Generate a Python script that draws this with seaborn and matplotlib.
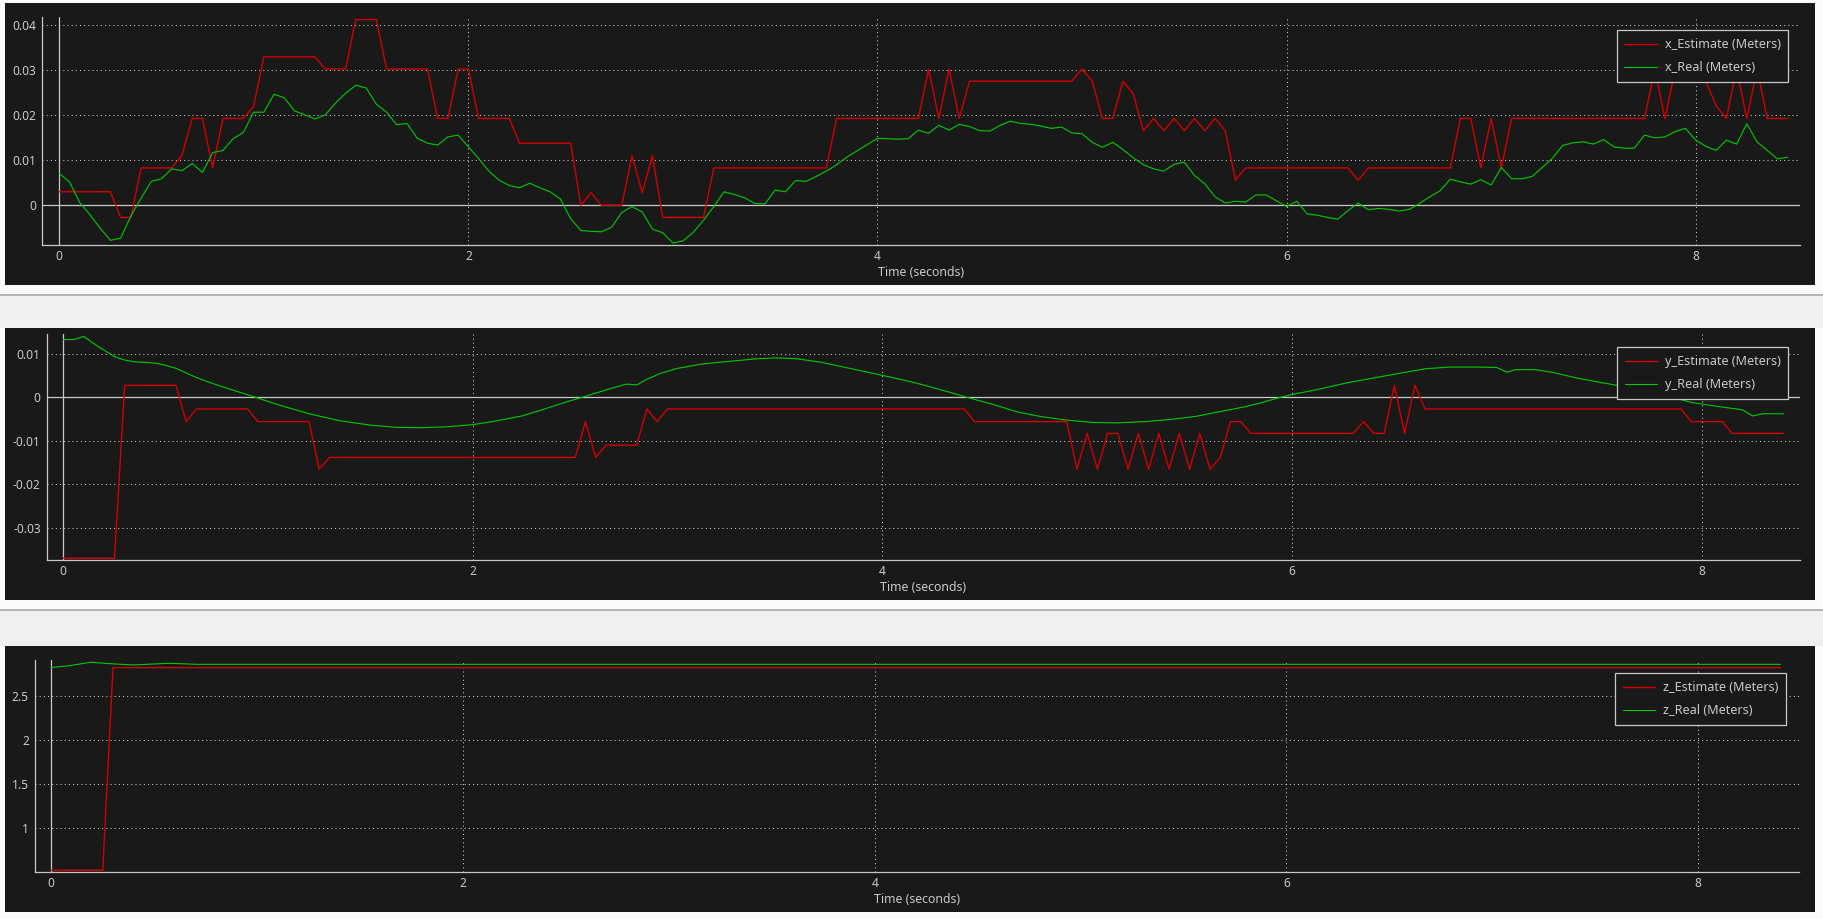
import numpy as np
import matplotlib
matplotlib.use("Agg")
import matplotlib.pyplot as plt
from matplotlib.patches import Rectangle
from matplotlib.ticker import MultipleLocator, FuncFormatter
import seaborn as sns

# ---- data (time in seconds, values in meters) ----
sample_period = 0.05  # real pose published at 20 Hz

x_est_t = [0.00, 0.25, 0.30, 0.35, 0.40, 0.55, 0.60, 0.65, 0.70, 0.75,
           0.80, 0.90, 0.95, 1.00, 1.25, 1.30, 1.40, 1.45, 1.55, 1.60,
           1.80, 1.85, 1.90, 1.95, 2.00, 2.05, 2.20, 2.25, 2.50, 2.55,
           2.60, 2.65, 2.75, 2.80, 2.85, 2.90, 2.95, 3.15, 3.20, 3.75,
           3.80, 4.20, 4.25, 4.30, 4.35, 4.40, 4.45, 4.95, 5.00, 5.05,
           5.10, 5.15, 5.20, 5.25, 5.30, 5.35, 5.40, 5.45, 5.50, 5.55,
           5.60, 5.65, 5.70, 5.75, 5.80, 6.30, 6.35, 6.40, 6.80, 6.85,
           6.90, 6.95, 7.00, 7.05, 7.10, 7.75, 7.80, 7.85, 7.90, 7.95,
           8.05, 8.10, 8.15, 8.20, 8.25, 8.30, 8.35, 8.45]
x_est = [0.0030, 0.0030, -0.0027, -0.0027, 0.0083, 0.0083, 0.0111, 0.0193, 0.0193, 0.0083,
         0.0193, 0.0193, 0.0220, 0.0330, 0.0330, 0.0303, 0.0303, 0.0413, 0.0413, 0.0303,
         0.0303, 0.0193, 0.0193, 0.0303, 0.0303, 0.0193, 0.0193, 0.0138, 0.0138, 0.0000,
         0.0028, 0.0000, 0.0000, 0.0110, 0.0028, 0.0110, -0.0027, -0.0027, 0.0083, 0.0083,
         0.0193, 0.0193, 0.0303, 0.0193, 0.0303, 0.0193, 0.0276, 0.0276, 0.0303, 0.0276,
         0.0193, 0.0193, 0.0276, 0.0248, 0.0166, 0.0193, 0.0166, 0.0193, 0.0166, 0.0193,
         0.0166, 0.0193, 0.0166, 0.0056, 0.0083, 0.0083, 0.0056, 0.0083, 0.0083, 0.0193,
         0.0193, 0.0083, 0.0193, 0.0083, 0.0193, 0.0193, 0.0303, 0.0193, 0.0303, 0.0276,
         0.0276, 0.0221, 0.0193, 0.0303, 0.0193, 0.0303, 0.0193, 0.0193]

x_real = [0.0071, 0.0052, 0.0006, -0.0021, -0.0051, -0.0078, -0.0073, -0.0024, 0.0016, 0.0053,
          0.0059, 0.0081, 0.0077, 0.0093, 0.0073, 0.0117, 0.0122, 0.0148, 0.0162, 0.0207,
          0.0207, 0.0247, 0.0239, 0.0210, 0.0201, 0.0192, 0.0201, 0.0227, 0.0249, 0.0267,
          0.0261, 0.0225, 0.0207, 0.0179, 0.0182, 0.0149, 0.0138, 0.0134, 0.0152, 0.0156,
          0.0130, 0.0104, 0.0076, 0.0056, 0.0044, 0.0039, 0.0049, 0.0039, 0.0030, 0.0014,
          -0.0030, -0.0056, -0.0058, -0.0059, -0.0049, -0.0016, -0.0003, -0.0015, -0.0053, -0.0061,
          -0.0084, -0.0079, -0.0060, -0.0033, -0.0003, 0.0030, 0.0024, 0.0017, 0.0004, 0.0003,
          0.0034, 0.0030, 0.0055, 0.0053, 0.0064, 0.0076, 0.0090, 0.0107, 0.0121, 0.0135,
          0.0149, 0.0148, 0.0147, 0.0148, 0.0167, 0.0160, 0.0178, 0.0167, 0.0180, 0.0175,
          0.0166, 0.0165, 0.0178, 0.0187, 0.0182, 0.0180, 0.0176, 0.0171, 0.0174, 0.0161,
          0.0159, 0.0140, 0.0129, 0.0140, 0.0124, 0.0106, 0.0090, 0.0081, 0.0076, 0.0091,
          0.0096, 0.0066, 0.0048, 0.0019, 0.0005, 0.0009, 0.0007, 0.0023, 0.0023, 0.0010,
          -0.0003, 0.0009, -0.0019, -0.0022, -0.0027, -0.0031, -0.0012, 0.0005, -0.0010, -0.0007,
          -0.0009, -0.0013, -0.0009, 0.0004, 0.0019, 0.0032, 0.0058, 0.0052, 0.0047, 0.0057,
          0.0045, 0.0084, 0.0059, 0.0059, 0.0064, 0.0084, 0.0105, 0.0133, 0.0139, 0.0141,
          0.0136, 0.0146, 0.0130, 0.0127, 0.0127, 0.0156, 0.0150, 0.0152, 0.0164, 0.0171,
          0.0145, 0.0131, 0.0122, 0.0145, 0.0136, 0.0181, 0.0141, 0.0122, 0.0103, 0.0107]

y_est_t = [0.00, 0.25, 0.30, 0.55, 0.60, 0.65, 0.90, 0.95, 1.20, 1.25,
           1.30, 2.50, 2.55, 2.60, 2.65, 2.80, 2.85, 2.90, 2.95, 4.40,
           4.45, 4.90, 4.95, 5.00, 5.05, 5.10, 5.15, 5.20, 5.25, 5.30,
           5.35, 5.40, 5.45, 5.50, 5.55, 5.60, 5.65, 5.70, 5.75, 5.80,
           6.30, 6.35, 6.40, 6.45, 6.50, 6.55, 6.60, 6.65, 7.90, 7.95,
           8.10, 8.15, 8.40]
y_est = [-0.0369, -0.0369, 0.0027, 0.0027, -0.0056, -0.0027, -0.0027, -0.0056, -0.0056, -0.0165,
         -0.0138, -0.0138, -0.0056, -0.0138, -0.0110, -0.0110, -0.0027, -0.0056, -0.0027, -0.0027,
         -0.0056, -0.0056, -0.0165, -0.0083, -0.0165, -0.0083, -0.0083, -0.0165, -0.0083, -0.0165,
         -0.0083, -0.0165, -0.0083, -0.0165, -0.0083, -0.0165, -0.0138, -0.0056, -0.0056, -0.0083,
         -0.0083, -0.0056, -0.0083, -0.0083, 0.0027, -0.0083, 0.0027, -0.0027, -0.0027, -0.0056,
         -0.0056, -0.0083, -0.0083]

y_real_t = [0.00, 0.05, 0.10, 0.17, 0.25, 0.30, 0.35, 0.45, 0.50, 0.55,
            0.65, 0.75, 0.85, 0.95, 1.04, 1.20, 1.35, 1.50, 1.62, 1.74,
            1.87, 2.00, 2.12, 2.24, 2.35, 2.45, 2.55, 2.64, 2.69, 2.75,
            2.80, 2.85, 2.92, 3.00, 3.12, 3.25, 3.39, 3.49, 3.58, 3.70,
            3.81, 4.00, 4.16, 4.30, 4.41, 4.55, 4.66, 4.78, 4.91, 5.03,
            5.14, 5.28, 5.41, 5.53, 5.66, 5.76, 5.85, 5.93, 6.00, 6.13,
            6.26, 6.40, 6.53, 6.65, 6.77, 6.90, 7.00, 7.05, 7.09, 7.19,
            7.27, 7.39, 7.48, 7.60, 7.73, 7.83, 7.95, 8.06, 8.20, 8.25,
            8.30, 8.40]
y_real = [0.0132, 0.0132, 0.0139, 0.0116, 0.0093, 0.0085, 0.0081, 0.0078, 0.0073, 0.0066,
          0.0045, 0.0028, 0.0013, -0.0002, -0.0016, -0.0038, -0.0054, -0.0064, -0.0069, -0.0070,
          -0.0068, -0.0063, -0.0054, -0.0043, -0.0027, -0.0012, 0.0002, 0.0015, 0.0022, 0.0030,
          0.0028, 0.0041, 0.0055, 0.0066, 0.0076, 0.0082, 0.0088, 0.0090, 0.0088, 0.0080,
          0.0069, 0.0050, 0.0033, 0.0015, 0.0000, -0.0018, -0.0034, -0.0045, -0.0053, -0.0058,
          -0.0059, -0.0056, -0.0051, -0.0044, -0.0032, -0.0023, -0.0013, -0.0002, 0.0006, 0.0018,
          0.0032, 0.0044, 0.0055, 0.0065, 0.0069, 0.0069, 0.0068, 0.0057, 0.0063, 0.0063,
          0.0057, 0.0044, 0.0036, 0.0026, 0.0013, 0.0003, -0.0012, -0.0020, -0.0029, -0.0043,
          -0.0038, -0.0038]

z_est_t = [0.00, 0.25, 0.30, 8.40]
z_est = [0.525, 0.525, 2.817, 2.817]

z_real_t = [0.00, 0.09, 0.19, 0.31, 0.40, 0.57, 0.71, 8.40]
z_real = [2.817, 2.839, 2.877, 2.858, 2.847, 2.866, 2.854, 2.854]

# ---- style ----
W, H = 1823, 919
DARK = "#191919"
FG = "#c8c8c8"
RED = "#d40000"
GREEN = "#00cc00"

sns.set_theme(style="dark", rc={
    "axes.facecolor": DARK,
    "axes.edgecolor": FG,
    "axes.unicode_minus": False,
    "xtick.color": FG,
    "ytick.color": FG,
    "text.color": FG,
    "axes.labelcolor": FG,
})
plt.rcParams["font.family"] = ["Noto Sans", "DejaVu Sans"]
FS_TICK = 8.6
FS_LABEL = 8.9
FS_LEG = 9.1

fig = plt.figure(figsize=(W / 100, H / 100), dpi=100, facecolor="#fbfbfb")


def box(x0, y0, x1, y1):
    # pixel box (origin top-left) -> figure fraction [l, b, w, h]
    return [x0 / W, 1 - y1 / H, (x1 - x0) / W, (y1 - y0) / H]


def add_rect(x0, y0, x1, y1, color):
    l, b, w, h = box(x0, y0, x1, y1)
    fig.add_artist(Rectangle((l, b), w, h, transform=fig.transFigure,
                             facecolor=color, edgecolor="none", zorder=-10))


# window chrome: grey separators and dark plot widgets
for top, bottom in [(294, 328), (609, 646)]:
    add_rect(0, top, W, bottom, "#efefef")
    add_rect(0, top, W, top + 1.5, "#b4b4b4")
for top, bottom in [(3, 285), (328, 600), (646, 912)]:
    add_rect(5, top, 1815, bottom, DARK)

panels = [
    dict(box=(42.3, 17.3, 1800, 245.3), xlim=(-0.083, 8.51), ylim=(-0.0089, 0.0418),
         major=0.01, minor=0.002, anchor=(0.9934, 0.943), zero_y=True,
         est=(x_est_t, x_est), real=(np.arange(len(x_real)) * sample_period, x_real),
         name="x"),
    dict(box=(46.7, 334.3, 1799.8, 560), xlim=(-0.081, 8.48), ylim=(-0.0373, 0.0144),
         major=0.01, minor=0.002, anchor=(0.9935, 0.9424), zero_y=True,
         est=(y_est_t, y_est), real=(y_real_t, y_real), name="y"),
    dict(box=(34.8, 660, 1799, 872.3), xlim=(-0.08, 8.49), ylim=(0.502, 2.903),
         major=0.5, minor=0.1, anchor=(0.9926, 0.9373), zero_y=False,
         est=(z_est_t, z_est), real=(z_real_t, z_real), name="z"),
]

for p in panels:
    ax = fig.add_axes(box(*p["box"]))
    ax.set_facecolor(DARK)

    sns.lineplot(x=p["est"][0], y=p["est"][1], ax=ax, color=RED, linewidth=1.0,
                 estimator=None, sort=False, label=f"{p['name']}_Estimate (Meters)", zorder=3)
    sns.lineplot(x=p["real"][0], y=p["real"][1], ax=ax, color=GREEN, linewidth=0.8,
                 estimator=None, sort=False, label=f"{p['name']}_Real (Meters)", zorder=3)

    ax.set_xlim(*p["xlim"])
    ax.set_ylim(*p["ylim"])

    ax.xaxis.set_major_locator(MultipleLocator(2))
    ax.xaxis.set_minor_locator(MultipleLocator(0.5))
    ax.yaxis.set_major_locator(MultipleLocator(p["major"]))
    ax.yaxis.set_minor_locator(MultipleLocator(p["minor"]))
    fmt = FuncFormatter(lambda v, pos: f"{round(v, 6):g}")
    ax.xaxis.set_major_formatter(fmt)
    ax.yaxis.set_major_formatter(fmt)

    ax.tick_params(axis="both", which="major", direction="in", length=4.5, width=0.8,
                   color=FG, labelcolor=FG, labelsize=FS_TICK)
    ax.tick_params(axis="both", which="minor", direction="in", length=2, width=0.8, color=FG)
    ax.tick_params(axis="y", which="major", pad=4.3)
    ax.tick_params(axis="x", which="major", pad=3.5)

    for side in ["top", "right"]:
        ax.spines[side].set_visible(False)
    for side in ["left", "bottom"]:
        ax.spines[side].set_color(FG)
        ax.spines[side].set_linewidth(0.9)

    # dotted grid at the labelled ticks, solid lines through zero
    ax.grid(False)
    for xv in [2, 4, 6, 8]:
        ax.axvline(xv, color=FG, linewidth=0.75, linestyle=(0, (1, 3)), zorder=1)
    yv = np.arange(np.ceil(p["ylim"][0] / p["major"]), np.floor(p["ylim"][1] / p["major"]) + 1) * p["major"]
    for v in yv:
        if abs(v) > 1e-9:
            ax.axhline(v, color=FG, linewidth=0.75, linestyle=(0, (1, 3)), zorder=1)
    ax.axvline(0, color=FG, linewidth=0.9, zorder=2)
    if p["zero_y"]:
        ax.axhline(0, color=FG, linewidth=0.9, zorder=2)

    ax.set_xlabel("Time (seconds)", fontsize=FS_LABEL, color=FG, labelpad=2)
    ax.set_ylabel("")

    leg = ax.legend(loc="upper right", bbox_to_anchor=p["anchor"], borderaxespad=0,
                    fontsize=FS_LEG, frameon=True, fancybox=False, framealpha=1,
                    facecolor=DARK, edgecolor=FG, handlelength=2.57, handletextpad=0.6,
                    borderpad=0.62, labelspacing=0.78)
    leg.get_frame().set_linewidth(0.9)
    leg.set_zorder(5)
    for txt in leg.get_texts():
        txt.set_color(FG)

fig.savefig("out.png", dpi=100, facecolor=fig.get_facecolor())
